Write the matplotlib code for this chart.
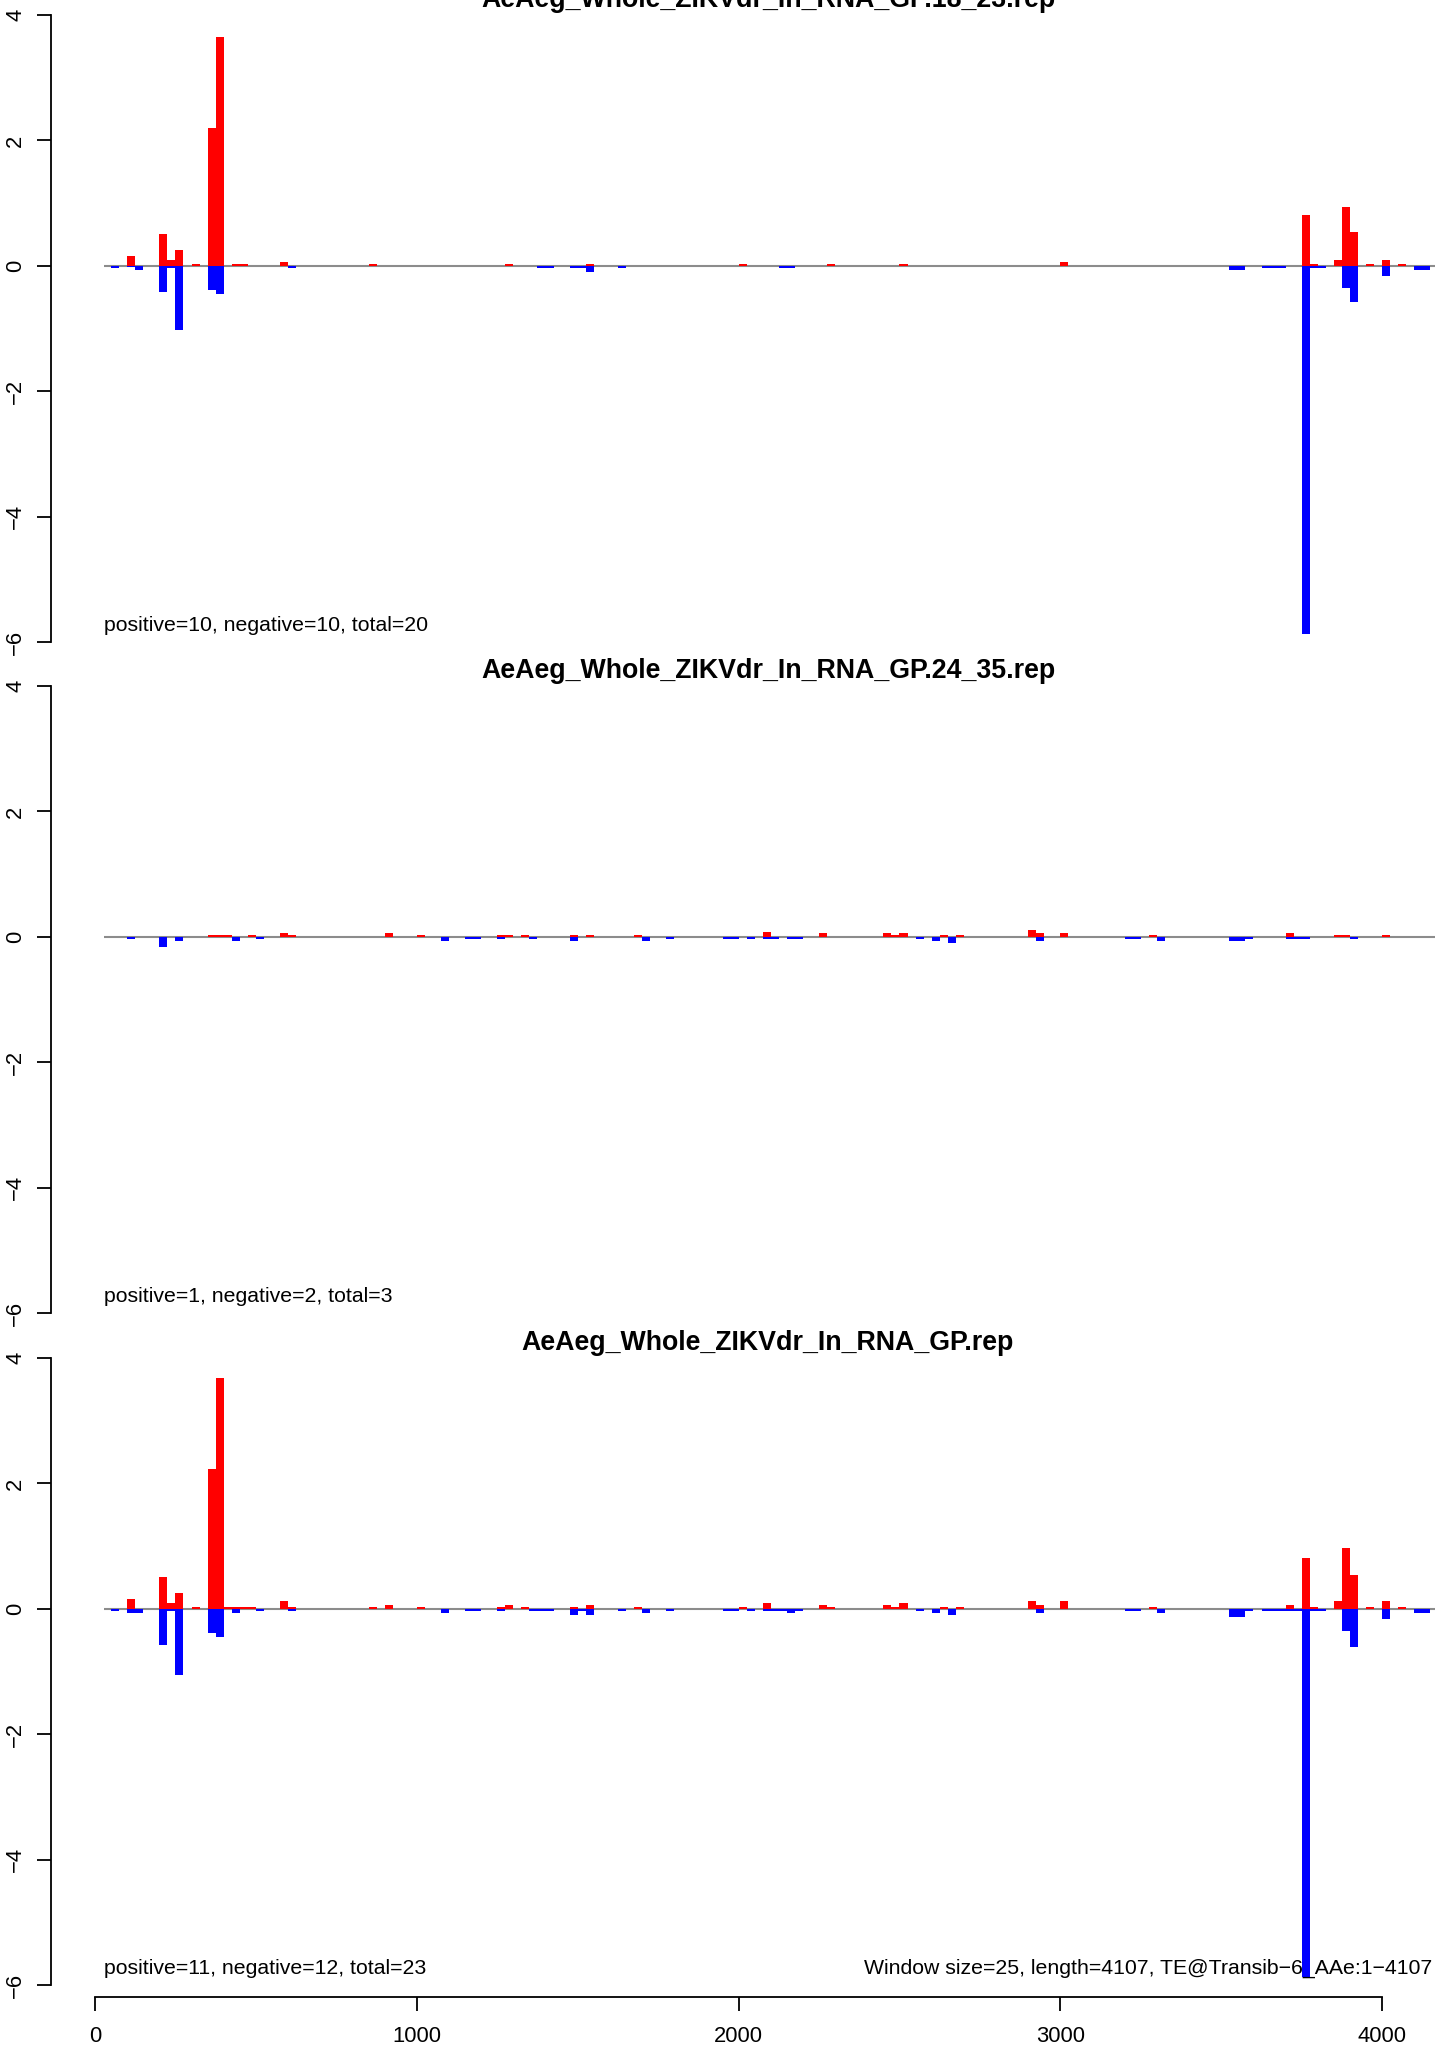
import matplotlib
matplotlib.use('Agg')
import matplotlib.pyplot as plt

plt.rcParams['font.family'] = ['Liberation Sans', 'DejaVu Sans']

#Данные: начала окон (размер окна 25) и значения
window = 25

top_title = 'AeAeg_Whole_ZIKVdr_In_RNA_GP.18_23.rep'
top_pos_bins = [100, 200, 225, 250, 300, 350, 375, 425, 450, 575, 850, 1275, 1525, 2000, 2275, 2500, 3000,
                3750, 3775, 3850, 3875, 3900, 3950, 4000, 4050]
top_pos_vals = [0.16, 0.51, 0.10, 0.255, 0.03, 2.2, 3.65, 0.03, 0.03, 0.064, 0.03, 0.03, 0.03, 0.03, 0.03, 0.03, 0.06,
                0.81, 0.03, 0.10, 0.94, 0.54, 0.03, 0.10, 0.03]
top_neg_bins = [50, 100, 125, 200, 225, 250, 350, 375, 600, 1375, 1400, 1475, 1500, 1525, 1625, 2125, 2150,
                3525, 3550, 3625, 3650, 3675, 3750, 3775, 3800, 3875, 3900, 4000, 4100, 4125]
top_neg_vals = [-0.03, -0.02, -0.064, -0.41, -0.03, -1.02, -0.38, -0.45, -0.03, -0.03, -0.03, -0.03, -0.03, -0.10, -0.03, -0.03, -0.03,
                -0.064, -0.064, -0.03, -0.03, -0.03, -5.87, -0.03, -0.03, -0.35, -0.57, -0.16, -0.064, -0.064]
top_note = 'positive=10, negative=10, total=20'

mid_title = 'AeAeg_Whole_ZIKVdr_In_RNA_GP.24_35.rep'
mid_pos_bins = [350, 375, 400, 475, 575, 600, 900, 1000, 1250, 1275, 1325, 1475, 1525, 1675, 2075, 2250,
                2450, 2475, 2500, 2625, 2675, 2900, 2925, 3000, 3275, 3700, 3850, 3875, 4000]
mid_pos_vals = [0.03, 0.03, 0.03, 0.03, 0.064, 0.03, 0.064, 0.03, 0.03, 0.03, 0.03, 0.03, 0.03, 0.03, 0.08, 0.064,
                0.064, 0.03, 0.064, 0.03, 0.03, 0.11, 0.064, 0.064, 0.03, 0.064, 0.03, 0.03, 0.03]
mid_neg_bins = [100, 200, 250, 425, 500, 1075, 1150, 1175, 1250, 1350, 1475, 1700, 1775, 1950, 1975, 2025,
                2075, 2100, 2150, 2175, 2550, 2600, 2650, 2925, 3200, 3225, 3300, 3525, 3550, 3575,
                3700, 3725, 3750, 3900]
mid_neg_vals = [-0.03, -0.16, -0.064, -0.064, -0.03, -0.064, -0.03, -0.03, -0.03, -0.03, -0.064, -0.064, -0.03, -0.03, -0.03, -0.03,
                -0.03, -0.03, -0.03, -0.03, -0.03, -0.064, -0.10, -0.064, -0.03, -0.03, -0.064, -0.064, -0.064, -0.03,
                -0.03, -0.03, -0.03, -0.03]
mid_note = 'positive=1, negative=2, total=3'

bot_title = 'AeAeg_Whole_ZIKVdr_In_RNA_GP.rep'
bot_pos_bins = [100, 200, 225, 250, 300, 350, 375, 400, 425, 450, 475, 575, 600, 850, 900, 1000, 1250, 1275,
                1325, 1475, 1525, 1675, 2000, 2075, 2250, 2275, 2450, 2475, 2500, 2625, 2675, 2900, 2925, 3000,
                3275, 3700, 3750, 3775, 3850, 3875, 3900, 3950, 4000, 4050]
bot_pos_vals = [0.155, 0.50, 0.09, 0.25, 0.03, 2.23, 3.68, 0.03, 0.03, 0.03, 0.03, 0.12, 0.03, 0.03, 0.06, 0.03, 0.03, 0.06,
                0.03, 0.03, 0.06, 0.03, 0.03, 0.09, 0.06, 0.03, 0.06, 0.03, 0.09, 0.03, 0.03, 0.12, 0.06, 0.12,
                0.03, 0.064, 0.81, 0.03, 0.13, 0.97, 0.54, 0.03, 0.13, 0.03]
bot_neg_bins = [50, 100, 125, 200, 225, 250, 350, 375, 425, 500, 600, 1075, 1150, 1175, 1250, 1350, 1375, 1400,
                1475, 1500, 1525, 1625, 1700, 1775, 1950, 1975, 2025, 2075, 2100, 2125, 2150, 2175, 2550, 2600,
                2650, 2925, 3200, 3225, 3300, 3525, 3550, 3575, 3625, 3650, 3675, 3700, 3725, 3750, 3775, 3800,
                3875, 3900, 4000, 4100, 4125]
bot_neg_vals = [-0.03, -0.064, -0.064, -0.57, -0.03, -1.05, -0.38, -0.45, -0.064, -0.03, -0.03, -0.064, -0.03, -0.03, -0.03, -0.03, -0.03, -0.03,
                -0.10, -0.03, -0.10, -0.03, -0.064, -0.03, -0.03, -0.03, -0.03, -0.03, -0.03, -0.03, -0.064, -0.03, -0.03, -0.064,
                -0.10, -0.064, -0.03, -0.03, -0.064, -0.13, -0.13, -0.03, -0.03, -0.03, -0.03, -0.03, -0.03, -5.88, -0.03, -0.03,
                -0.35, -0.61, -0.16, -0.064, -0.064]
bot_note = 'positive=11, negative=12, total=23'
info_note = 'Window size=25, length=4107, TE@Transib\u22126_AAe:1\u22124107'

x_ticks = [0, 1000, 2000, 3000, 4000]
y_ticks = [-6, -4, -2, 0, 2, 4]

#Размер картинки в пикселях и перевод пикселей в координаты
W, H = 1444, 2049
x0_px, ppu = 95.0, 0.3218
xlim = ((51 - x0_px) / ppu, (W - x0_px) / ppu)


def add_px_axes(fig, left, top, right, bottom):
    return fig.add_axes([left / W, 1 - bottom / H, (right - left) / W, (bottom - top) / H])


fig = plt.figure(figsize=(W / 100, H / 100), dpi=100)

panels = [
    (15, 642, top_title, top_pos_bins, top_pos_vals, top_neg_bins, top_neg_vals, top_note),
    (686, 1313, mid_title, mid_pos_bins, mid_pos_vals, mid_neg_bins, mid_neg_vals, mid_note),
    (1358, 1985, bot_title, bot_pos_bins, bot_pos_vals, bot_neg_bins, bot_neg_vals, bot_note),
]

for i, (top, bottom, title, pb, pv, nb, nv, note) in enumerate(panels):
    ax = add_px_axes(fig, 51, top, W, bottom)
    ax.set_xlim(*xlim)
    ax.set_ylim(-6, 4)
    ax.hlines(0, 28, 4165, color='#8c8c8c', lw=1.5, zorder=1)
    ax.bar(pb, pv, width=window, align='edge', color='#ff0000', linewidth=0, zorder=2)
    ax.bar(nb, nv, width=window, align='edge', color='#0000ff', linewidth=0, zorder=2)
    for s in ['top', 'right', 'bottom']:
        ax.spines[s].set_visible(False)
    ax.spines['left'].set_linewidth(1.3)
    ax.spines['left'].set_bounds(-6, 4)
    ax.set_xticks([])
    ax.set_yticks(y_ticks)
    ax.set_yticklabels(['\u2212' + str(-t) if t < 0 else str(t) for t in y_ticks],
                       rotation=90, va='center', fontsize=15.8)
    ax.tick_params(axis='y', length=10, width=1.3, pad=8)
    ax.text(28, -5.74, note, ha='left', va='center', fontsize=15.3)
    if i == 2:
        ax.text(4155, -5.74, info_note, ha='right', va='center', fontsize=15.3)
    fig.text(768 / W, 1 - (top - 15) / H, title, ha='center', va='center',
             fontsize=19.3, fontweight='bold')

#Нижняя ось X
axx = add_px_axes(fig, 51, 1987, W, 1997)
axx.set_xlim(*xlim)
axx.set_ylim(0, 1)
for s in ['top', 'right', 'left']:
    axx.spines[s].set_visible(False)
axx.spines['bottom'].set_linewidth(1.3)
axx.spines['bottom'].set_bounds(0, 4000)
axx.set_yticks([])
axx.set_xticks(x_ticks)
axx.set_xticklabels([str(t) for t in x_ticks], fontsize=15.8)
axx.tick_params(axis='x', length=10, width=1.3, pad=11)
axx.patch.set_alpha(0)

fig.savefig('out.png', dpi=100)
plt.close(fig)
